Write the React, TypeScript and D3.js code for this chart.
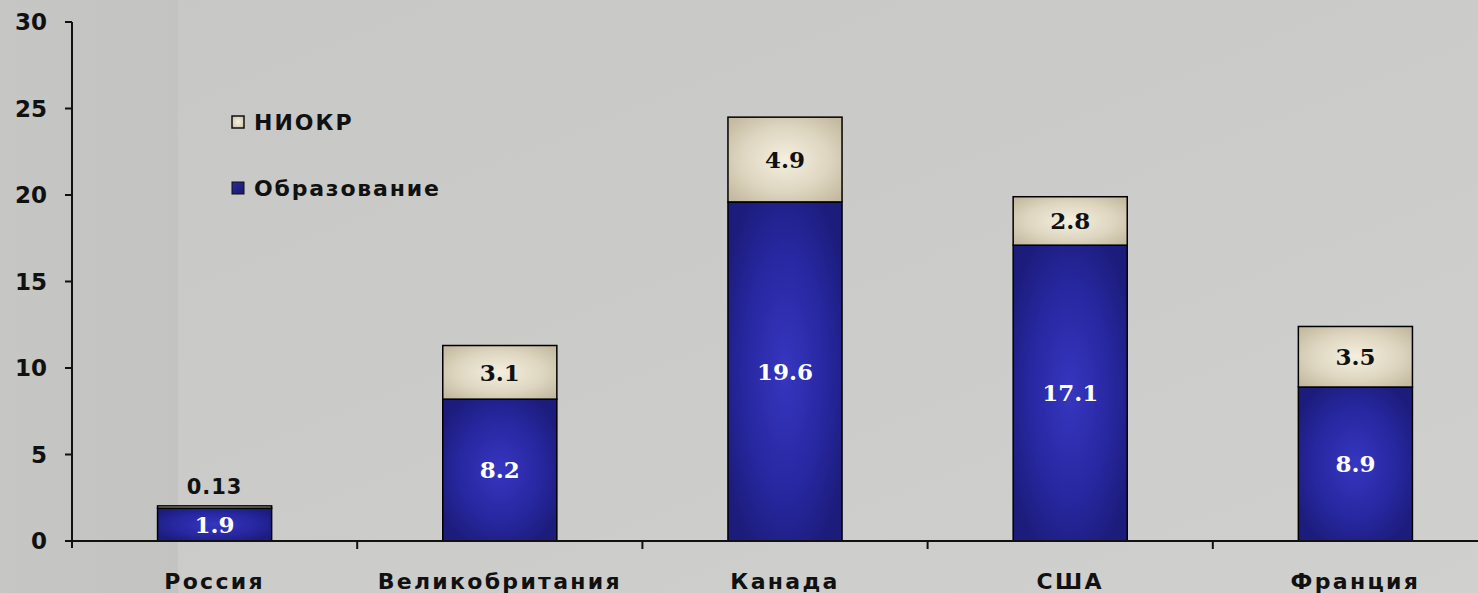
import React from 'react';
import * as d3 from 'd3';

const categories = ['Россия', 'Великобритания', 'Канада', 'США', 'Франция'];
const education = [1.9, 8.2, 19.6, 17.1, 8.9];
const rnd = [0.13, 3.1, 4.9, 2.8, 3.5];
const yTicks = [0, 5, 10, 15, 20, 25, 30];
const seriesNames = ['НИОКР', 'Образование'];

const W = 1478;
const H = 593;

export default function App() {
  const y = d3.scaleLinear().domain([0, 30]).range([541, 22]);
  const xBand = d3.scaleBand<string>().domain(categories).range([72, 1498]).padding(0);
  const xBar = d3.scaleBand<string>().domain(categories).range([72, 1498]).paddingInner(0.6).paddingOuter(0.3);
  const bw = xBar.bandwidth();

  const sansB = "'DejaVu Sans', Verdana, sans-serif";
  const serifB = "'DejaVu Serif', Georgia, serif";

  return (
    <svg width={W} height={H} style={{ position: 'absolute', left: 0, top: 0, display: 'block' }}>
      <defs>
        <linearGradient id="bg" x1="0" y1="0" x2="1" y2="1">
          <stop offset="0" stopColor="#c7c7c5" />
          <stop offset="0.5" stopColor="#cbcbc9" />
          <stop offset="1" stopColor="#d0d0ce" />
        </linearGradient>
        <linearGradient id="leftStrip" x1="0" y1="0" x2="1" y2="0">
          <stop offset="0" stopColor="#c6c6c4" />
          <stop offset="1" stopColor="#c3c3c1" />
        </linearGradient>
        <radialGradient id="blueG" cx="0.5" cy="0.5" r="0.6">
          <stop offset="0" stopColor="#3636c0" />
          <stop offset="0.6" stopColor="#2727a0" />
          <stop offset="1" stopColor="#1c1c7c" />
        </radialGradient>
        <radialGradient id="beigeG" cx="0.5" cy="0.5" r="0.65">
          <stop offset="0" stopColor="#f4efdf" />
          <stop offset="0.6" stopColor="#ddd5bf" />
          <stop offset="1" stopColor="#c4baa0" />
        </radialGradient>
        <linearGradient id="legBlue" x1="0" y1="0" x2="1" y2="1">
          <stop offset="0" stopColor="#2a2a9a" />
          <stop offset="1" stopColor="#1a1a6a" />
        </linearGradient>
      </defs>

      <rect x={0} y={0} width={W} height={H} fill="url(#bg)" />
      <rect x={0} y={0} width={178} height={H} fill="url(#leftStrip)" />

      {/* bars */}
      {categories.map((c, i) => {
        const x0 = xBar(c)!;
        const yEduTop = y(education[i]);
        const yTop = y(education[i] + rnd[i]);
        return (
          <g key={c}>
            <rect x={x0} y={yEduTop} width={bw} height={y(0) - yEduTop} fill="url(#blueG)" stroke="#000" strokeWidth={1.5} />
            <rect x={x0} y={yTop} width={bw} height={yEduTop - yTop} fill="url(#beigeG)" stroke="#000" strokeWidth={1.5} />
          </g>
        );
      })}

      {/* value labels */}
      {categories.map((c, i) => {
        const cx = xBar(c)! + bw / 2;
        const yEduTop = y(education[i]);
        const yTop = y(education[i] + rnd[i]);
        const small = yEduTop - yTop < 20;
        return (
          <g key={'l' + c}>
            <text x={cx} y={(yEduTop + y(0)) / 2} dy="0.36em" textAnchor="middle" fill="#fff"
              fontFamily={serifB} fontWeight="bold" fontSize={23}>{String(education[i])}</text>
            {small ? (
              <text x={cx} y={yTop - 19} dy="0.36em" textAnchor="middle" fill="#111"
                fontFamily={sansB} fontWeight="bold" fontSize={21} letterSpacing={1}>{String(rnd[i])}</text>
            ) : (
              <text x={cx} y={(yTop + yEduTop) / 2} dy="0.36em" textAnchor="middle" fill="#111"
                fontFamily={serifB} fontWeight="bold" fontSize={23}>{String(rnd[i])}</text>
            )}
          </g>
        );
      })}

      {/* y axis */}
      <line x1={72} x2={72} y1={y(30)} y2={y(0) + 7} stroke="#111" strokeWidth={2} />
      {yTicks.map(t => (
        <g key={t}>
          <line x1={65} x2={72} y1={y(t)} y2={y(t)} stroke="#111" strokeWidth={2} />
          <text x={47} y={y(t)} dy="0.36em" textAnchor="end" fill="#111" fontFamily={sansB}
            fontWeight="bold" fontSize={23}>{t}</text>
        </g>
      ))}

      {/* x axis */}
      <line x1={65} x2={W} y1={y(0)} y2={y(0)} stroke="#111" strokeWidth={2} />
      {categories.slice(1).map(c => (
        <line key={'t' + c} x1={xBand(c)!} x2={xBand(c)!} y1={y(0)} y2={y(0) + 8} stroke="#111" strokeWidth={2} />
      ))}
      {categories.map(c => (
        <text key={'c' + c} x={xBand(c)! + xBand.bandwidth() / 2} y={589} textAnchor="middle" fill="#111"
          fontFamily={sansB} fontWeight="bold" fontSize={22} letterSpacing={2.3}>{c}</text>
      ))}

      {/* legend */}
      <g>
        <rect x={232} y={116} width={12} height={12} fill="url(#beigeG)" stroke="#111" strokeWidth={1.5} />
        <text x={254} y={122} dy="0.36em" fill="#111" fontFamily={sansB} fontWeight="bold" fontSize={22}
          letterSpacing={2}>{seriesNames[0]}</text>
        <rect x={232} y={182} width={12} height={12} fill="url(#legBlue)" stroke="#111" strokeWidth={1} />
        <text x={254} y={188} dy="0.36em" fill="#111" fontFamily={sansB} fontWeight="bold" fontSize={22}
          letterSpacing={1.8}>{seriesNames[1]}</text>
      </g>
    </svg>
  );
}
